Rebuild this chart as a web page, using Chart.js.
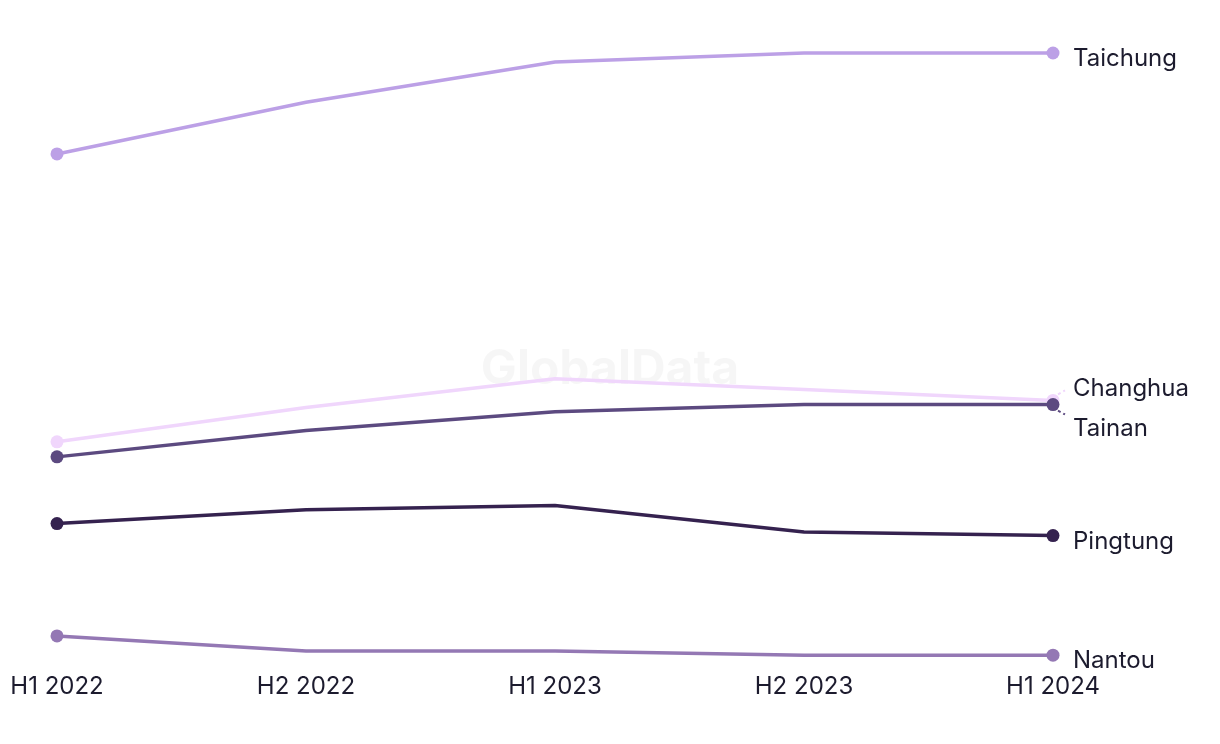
<!DOCTYPE html>
<html>
<head>
<meta charset="utf-8">
<script src="https://cdn.jsdelivr.net/npm/chart.js@4"></script>
<style>
  html, body { margin: 0; padding: 0; background: #fff; }
  #wrap { width: 1220px; height: 744px; position: relative; }
</style>
</head>
<body>
<div id="wrap"><canvas id="myChart"></canvas></div>
<script>
const periods = ["H1 2022", "H2 2022", "H1 2023", "H2 2023", "H1 2024"];
const regions = ["Taichung", "Changhua", "Tainan", "Pingtung", "Nantou"];
const taichung = [87.7, 96.3, 103.0, 104.5, 104.5];
const changhua = [39.8, 45.5, 50.3, 48.5, 46.7];
const tainan = [37.3, 41.7, 44.8, 46.0, 46.0];
const pingtung = [26.2, 28.5, 29.2, 24.8, 24.2];
const nantou = [7.5, 5.0, 5.0, 4.3, 4.3];
const colours = ["#bca0e6", "#f0d6fc", "#5c4a80", "#35224f", "#9478b4"];

const textColour = "#1c1b2e";
const fontFamily = "Inter, 'Noto Sans', sans-serif";

// watermark behind the lines
const watermark = {
  id: "watermark",
  beforeDatasetsDraw(chart) {
    const { ctx, chartArea } = chart;
    ctx.save();
    ctx.font = "bold 48px " + fontFamily;
    ctx.fillStyle = "rgba(0,0,0,0.035)";
    ctx.textAlign = "center";
    ctx.textBaseline = "middle";
    ctx.fillText("GlobalData", (chartArea.left + chartArea.right) / 2 + 55, 370);
    ctx.restore();
  },
};

// end labels, pushed apart when they collide
const endLabels = {
  id: "endLabels",
  afterDatasetsDraw(chart) {
    const { ctx } = chart;
    const items = chart.data.datasets.map((ds, i) => {
      const pt = chart.getDatasetMeta(i).data[ds.data.length - 1];
      return { label: ds.label, colour: ds.borderColor, px: pt.x, py: pt.y, y: pt.y };
    });
    items.sort((a, b) => a.py - b.py);
    const gap = 40;
    for (let i = 1; i < items.length; i++) {
      if (items[i].y - items[i - 1].y < gap) {
        const mid = (items[i].y + items[i - 1].y) / 2;
        items[i - 1].y = mid - gap / 2;
        items[i].y = mid + gap / 2;
      }
    }
    ctx.save();
    ctx.font = "24px " + fontFamily;
    ctx.textBaseline = "middle";
    ctx.fillStyle = textColour;
    items.forEach((it) => {
      const moved = Math.abs(it.y - it.py) > 2;
      if (moved) {
        const dir = Math.sign(it.y - it.py);
        ctx.save();
        ctx.strokeStyle = it.colour;
        ctx.lineWidth = 2;
        ctx.setLineDash([3, 3]);
        ctx.beginPath();
        ctx.moveTo(it.px + 5, it.py + dir * 6);
        ctx.lineTo(it.px + 12, it.y - dir * 8);
        ctx.stroke();
        ctx.restore();
      }
      ctx.fillText(it.label, it.px + 20, it.y + 6);
    });
    ctx.restore();
  },
};

const seriesValues = [taichung, changhua, tainan, pingtung, nantou];
const endPointRadius = (c) => (c.dataIndex === 0 || c.dataIndex === periods.length - 1 ? 6.5 : 0);
const datasets = regions.map((name, i) => ({
  label: name,
  data: seriesValues[i],
  borderColor: colours[i],
  backgroundColor: colours[i],
  pointBackgroundColor: colours[i],
  pointBorderWidth: 0,
  pointRadius: endPointRadius,
  borderWidth: 3.5,
  tension: 0,
  clip: false,
}));
// lighter lines sit underneath darker ones
const order = [1, 0, 4, 2, 3];
order.forEach((idx, k) => { datasets[idx].order = 10 - k; });

new Chart(document.getElementById("myChart"), {
  type: "line",
  data: { labels: periods, datasets: datasets },
  options: {
    responsive: true,
    maintainAspectRatio: false,
    animation: false,
    layout: { padding: { left: 57, right: 167, top: 53, bottom: 26 } },
    plugins: {
      legend: { display: false },
      tooltip: { enabled: false },
    },
    scales: {
      x: {
        offset: false,
        grid: { display: false, drawTicks: false },
        border: { display: false },
        afterFit: (scale) => {
          scale.paddingLeft = 0;
          scale.paddingRight = 0;
        },
        ticks: {
          color: textColour,
          font: { family: fontFamily, size: 24 },
          padding: 17,
          maxRotation: 0,
          autoSkip: false,
        },
      },
      y: {
        display: false,
        min: 4.3,
        max: 104.5,
      },
    },
  },
  plugins: [watermark, endLabels],
});
</script>
</body>
</html>
